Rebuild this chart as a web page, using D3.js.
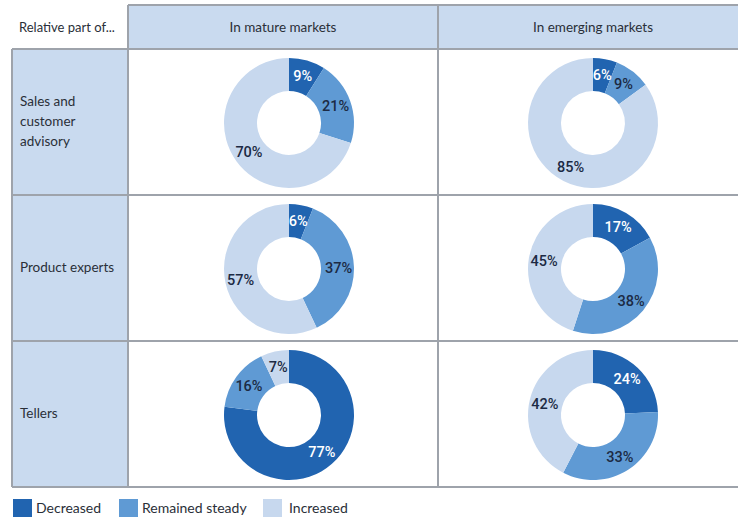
<!DOCTYPE html>
<html>
<head>
<meta charset="utf-8">
<script src="https://cdn.jsdelivr.net/npm/d3@7"></script>
<style>
  html, body { margin: 0; padding: 0; background: #fff; }
  svg { display: block; }
</style>
</head>
<body>
<svg id="chart" width="738" height="518"></svg>
<script>
// Survey results: change in the relative part of each role, by market type
const cornerLabel = "Relative part of...";
const markets = ["In mature markets", "In emerging markets"];
const roles = ["Sales and customer advisory", "Product experts", "Tellers"];
const roleLines = [["Sales and", "customer", "advisory"], ["Product experts"], ["Tellers"]];
const seriesNames = ["Decreased", "Remained steady", "Increased"];
// values per role: [Decreased, Remained steady, Increased] in %
const matureValues = [[9, 21, 70], [6, 37, 57], [77, 16, 7]];
const emergingValues = [[6, 9, 85], [17, 38, 45], [24, 33, 42]];

const W = 738, H = 518;
const svg = d3.select("#chart");

const color = d3.scaleOrdinal(seriesNames, ["#2164b0", "#5f9ad4", "#c7d8ee"]);
const labelColor = d3.scaleOrdinal(seriesNames, ["#ffffff", "#1c2a44", "#1c2a44"]);

const gridLeft = 12, labelColRight = 128, gridTop = 5, headerBottom = 49, gridBottom = 487;
const x = d3.scaleBand().domain(markets).range([labelColRight, labelColRight + 310 * 2]);
const y = d3.scaleBand().domain(roles).range([headerBottom, gridBottom]);
const donutShift = [6, 0];

const headerFill = "#c9daef";
const lineColor = "#9ea3ab";
const fontFamily = "Lato, 'Liberation Sans', sans-serif";

// header cells
svg.append("rect")
  .attr("x", labelColRight).attr("y", gridTop)
  .attr("width", W - labelColRight).attr("height", headerBottom - gridTop)
  .attr("fill", headerFill);
// row label column
svg.append("rect")
  .attr("x", gridLeft).attr("y", headerBottom)
  .attr("width", labelColRight - gridLeft).attr("height", gridBottom - headerBottom)
  .attr("fill", headerFill);

// grid lines
const lines = svg.append("g").attr("stroke", lineColor).attr("stroke-width", 2).attr("fill", "none");
lines.append("line").attr("x1", labelColRight).attr("x2", W).attr("y1", gridTop).attr("y2", gridTop);
[headerBottom, ...roles.map(r => y(r) + y.bandwidth())].forEach(yy => {
  lines.append("line").attr("x1", gridLeft).attr("x2", W).attr("y1", yy).attr("y2", yy);
});
lines.append("line").attr("x1", gridLeft).attr("x2", gridLeft).attr("y1", headerBottom).attr("y2", gridBottom);
markets.forEach(m => {
  lines.append("line").attr("x1", x(m)).attr("x2", x(m)).attr("y1", gridTop).attr("y2", gridBottom);
});

// corner and header text
svg.append("text")
  .attr("x", 19).attr("y", (gridTop + headerBottom) / 2)
  .attr("dy", "0.35em")
  .attr("font-family", fontFamily).attr("font-size", 13)
  .attr("fill", "#2a2f38")
  .text(cornerLabel);

svg.append("g").selectAll("text").data(markets).join("text")
  .attr("x", d => x(d) + x.bandwidth() / 2)
  .attr("y", (gridTop + headerBottom) / 2)
  .attr("dy", "0.35em")
  .attr("text-anchor", "middle")
  .attr("font-family", fontFamily).attr("font-size", 13.5)
  .attr("fill", "#2a2f38")
  .text(d => d);

// row labels
roles.forEach((r, i) => {
  const ls = roleLines[i];
  const lh = 20;
  const cy = y(r) + y.bandwidth() / 2 - 1;
  const t = svg.append("text")
    .attr("font-family", fontFamily).attr("font-size", 13.5)
    .attr("fill", "#2a2f38");
  ls.forEach((line, j) => {
    t.append("tspan")
      .attr("x", 20)
      .attr("y", cy + (j - (ls.length - 1) / 2) * lh)
      .attr("dy", "0.35em")
      .text(line);
  });
});

// donuts
const outerR = 65, innerR = 32;
const pie = d3.pie().sort(null).value(d => d.value);
const arc = d3.arc().innerRadius(innerR).outerRadius(outerR);
const labelArc = d3.arc().innerRadius((innerR + outerR) / 2 + 1).outerRadius((innerR + outerR) / 2 + 1);

const tables = [matureValues, emergingValues];
markets.forEach((m, mi) => {
  roles.forEach((r, ri) => {
    const data = seriesNames.map((s, si) => ({ series: s, value: tables[mi][ri][si] }));
    const g = svg.append("g")
      .attr("transform", `translate(${x(m) + x.bandwidth() / 2 + donutShift[mi]},${y(r) + y.bandwidth() / 2 + 1})`);
    const arcs = pie(data);
    g.selectAll("path").data(arcs).join("path")
      .attr("d", arc)
      .attr("fill", d => color(d.data.series));
    g.selectAll("text").data(arcs).join("text")
      .attr("transform", d => `translate(${labelArc.centroid(d)})`)
      .attr("text-anchor", "middle")
      .attr("dy", "0.36em")
      .attr("font-family", "Roboto, 'Liberation Sans', Arial, sans-serif")
      .attr("font-weight", 500)
      .attr("font-size", 14.5)
      .attr("fill", d => labelColor(d.data.series))
      .text(d => d.data.value + "%");
  });
});

// legend
const legendX = [13, 119, 263];
const legend = svg.append("g");
seriesNames.forEach((s, i) => {
  legend.append("rect")
    .attr("x", legendX[i]).attr("y", 499)
    .attr("width", 19).attr("height", 18)
    .attr("fill", color(s));
  legend.append("text")
    .attr("x", legendX[i] + (i === 2 ? 26 : 23)).attr("y", 508)
    .attr("dy", "0.35em")
    .attr("font-family", fontFamily).attr("font-size", 14)
    .attr("fill", "#2a2f38")
    .text(s);
});
</script>
</body>
</html>
